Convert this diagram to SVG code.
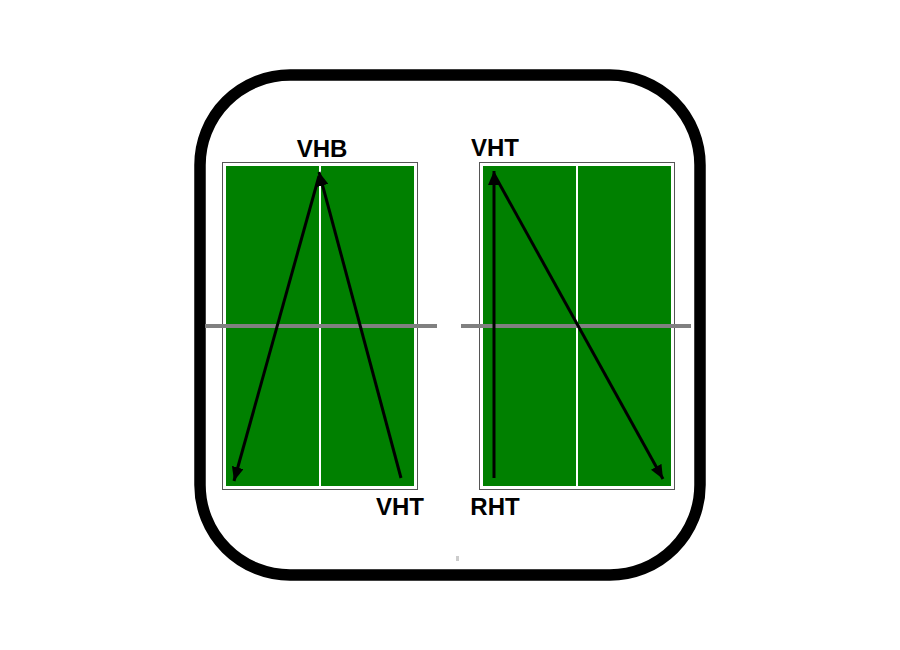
<svg xmlns="http://www.w3.org/2000/svg" width="900" height="650" viewBox="0 0 900 650">
<defs>
<marker id="ah" viewBox="0 0 14 12" refX="14" refY="6" markerWidth="14" markerHeight="12" markerUnits="userSpaceOnUse" orient="auto">
<path d="M0,0 L14,6 L0,12 z" fill="#000"/>
</marker>
<style>
.frame{fill:#fff;stroke:#000;stroke-width:11.5}
.tb{fill:#fff;stroke:#555;stroke-width:1}
.green{fill:#008000}
.mid{stroke:#fff;stroke-width:2}
.net{stroke:#808080;stroke-width:4}
.arr{stroke:#000;stroke-width:3;fill:none;marker-end:url(#ah)}
.lbl{font-family:"Liberation Sans",Arial,sans-serif;font-weight:bold;font-size:24px;fill:#000}
</style>
</defs>
<rect width="900" height="650" fill="#fff"/>
<rect class="frame" x="200" y="75" width="500" height="500" rx="90" ry="90"/>
<rect x="456" y="556" width="3" height="5" fill="#ccc"/>
<g id="table-left">
<rect class="tb" x="222.5" y="162.5" width="195" height="327"/>
<rect class="green" x="226" y="166" width="188" height="320"/>
<line class="mid" x1="320" y1="166" x2="320" y2="486"/>
<line class="net" x1="205" y1="326" x2="437" y2="326"/>
</g>
<g id="table-right">
<rect class="tb" x="479.5" y="162.5" width="195" height="327"/>
<rect class="green" x="483" y="166" width="188" height="320"/>
<line class="mid" x1="577" y1="166" x2="577" y2="486"/>
<line class="net" x1="461" y1="326" x2="691" y2="326"/>
</g>
<g id="connectors">
<line class="arr" x1="401" y1="478" x2="319" y2="172"/>
<line class="arr" x1="319" y1="176" x2="234" y2="481"/>
<line class="arr" x1="494" y1="478" x2="494" y2="171"/>
<line class="arr" x1="494" y1="174" x2="663" y2="479"/>
</g>
<g id="labels">
<text class="lbl" x="322" y="157" text-anchor="middle">VHB</text>
<text class="lbl" x="400" y="515" text-anchor="middle">VHT</text>
<text class="lbl" x="495" y="156" text-anchor="middle">VHT</text>
<text class="lbl" x="495" y="515" text-anchor="middle">RHT</text>
</g>
</svg>
